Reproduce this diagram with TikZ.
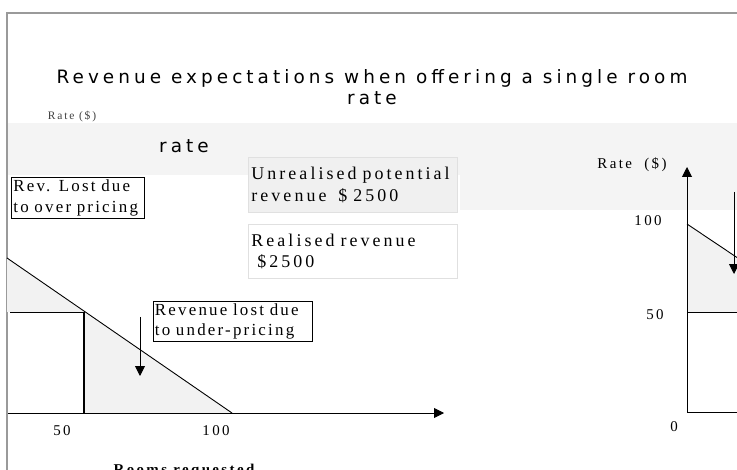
\documentclass[tikz,border=0pt]{standalone}
\usepackage{fontspec}
\usetikzlibrary{arrows.meta}
\newfontfamily\titlefont[LetterSpace=22]{DejaVu Sans}
\newfontfamily\serifsp[LetterSpace=13,WordSpace=1.5]{Liberation Serif}
\newfontfamily\seriflbl[LetterSpace=16]{Liberation Serif}
\newfontfamily\serifwide[LetterSpace=17,WordSpace=1.5]{Liberation Serif}
\definecolor{areacol}{HTML}{F2F2F2}
\definecolor{bandcol}{HTML}{F4F4F4}
\definecolor{framecol}{HTML}{9A9A9A}
\tikzset{
  lbl/.style={inner sep=0pt, font=\seriflbl\fontsize{15}{17}\selectfont},
  blacktext/.style={inner sep=0pt, font=\serifsp\fontsize{17}{21}\selectfont, align=left},
  widetext/.style={inner sep=0pt, font=\serifwide\fontsize{18}{22}\selectfont, align=left},
  ln/.style={line width=0.9pt, black},
  arr/.style={line width=0.9pt, black, -{Triangle[length=10pt,width=10pt]}},
}
\begin{document}
\begin{tikzpicture}[x=1bp,y=-1bp]
\useasboundingbox (0,0) rectangle (737,470);
\clip (0,0) rectangle (737,470);
\fill[white] (0,0) rectangle (737,470);
% light band
\fill[bandcol] (7,123) rectangle (737,175);
\fill[bandcol] (460,138) rectangle (737,210);
% frame
\draw[framecol, line width=1.6pt] (7,470) -- (7,13) -- (737,13);
% title
\node[inner sep=0pt, align=center, font=\titlefont\fontsize{18.5}{21}\selectfont] (title) at (372,87)
  {Revenue expectations when offering a single room\\rate};
\node[inner sep=0pt, font=\seriflbl\fontsize{11.5}{13}\selectfont, text=black!75] (ratesmall) at (72,117) {Rate (\$)};
\node[inner sep=0pt, font=\titlefont\fontsize{18.5}{21}\selectfont] (rate2) at (184,146) {rate};
% left graph shading
\coordinate (dl) at (7,258);
\coordinate (k) at (84,312);
\coordinate (dr) at (232,413);
\fill[areacol] (7,258) -- (k) -- (7,312) -- cycle;
\fill[areacol] (k) -- (dr) -- (84,413) -- cycle;
\draw[ln] (dl) -- (dr);
\draw[ln] (10,312) -- (k);
\draw[black, line width=1.8pt] (k) -- (84,413);
\coordinate (xo) at (8,413);
\coordinate (xe) at (444,413);
\draw[arr] (xo) -- (xe);
% boxes
\node[draw=black, line width=0.9pt, fill=white, anchor=north west, minimum width=133bp, minimum height=41bp,
  text width=129bp, inner sep=1.5pt, blacktext] (over) at (11,177) {Rev. Lost due\\to over pricing};
\node[draw=black!12, line width=0.9pt, fill=black!6, anchor=north west, minimum width=209bp, minimum height=55bp,
  text width=203bp, inner sep=3pt, widetext] (unreal) at (248,157) {Unrealised potential\\revenue\ \ \$ 2500};
\node[draw=black!12, line width=0.9pt, fill=white, anchor=north west, minimum width=209bp, minimum height=54bp,
  text width=203bp, inner sep=3pt, widetext] (real) at (248,224) {Realised revenue\\\ \$2500};
\node[draw=black, line width=0.9pt, fill=white, anchor=north west, minimum width=159bp, minimum height=40bp,
  text width=156bp, inner sep=1.5pt, blacktext] (under) at (153,301) {Revenue lost due\\to under-pricing};
\coordinate (a1) at (140,317);
\coordinate (a2) at (140,376);
\draw[arr] (a1) -- (a2);
% left labels
\node[lbl] (l50) at (62,431) {50};
\node[lbl] (l100) at (216,431) {100};
\node[inner sep=0pt, font=\seriflbl\bfseries\fontsize{15}{17}\selectfont, anchor=base] (rooms) at (184,474) {Rooms requested};
% right graph
\coordinate (ro) at (687,412);
\coordinate (rt) at (687,167);
\coordinate (rx) at (737,412);
\coordinate (rd1) at (687,224);
\coordinate (rd2) at (737,257.5);
\fill[areacol] (rd1) -- (rd2) -- (737,312) -- (687,312) -- cycle;
\draw[ln] (rd1) -- (rd2);
\draw[ln] (687,312) -- (737,312);
\draw[ln] (ro) -- (rx);
\draw[arr] (ro) -- (rt);
\coordinate (b1) at (734,192);
\coordinate (b2) at (734,274);
\draw[arr] (b1) -- (b2);
\node[lbl] (rrate) at (632,165) {Rate\ \ (\$)};
\node[lbl] (r100) at (648,221) {100};
\node[lbl] (r50) at (655,315) {50};
\node[lbl] (r0) at (674,427) {0};
\end{tikzpicture}
\end{document}
